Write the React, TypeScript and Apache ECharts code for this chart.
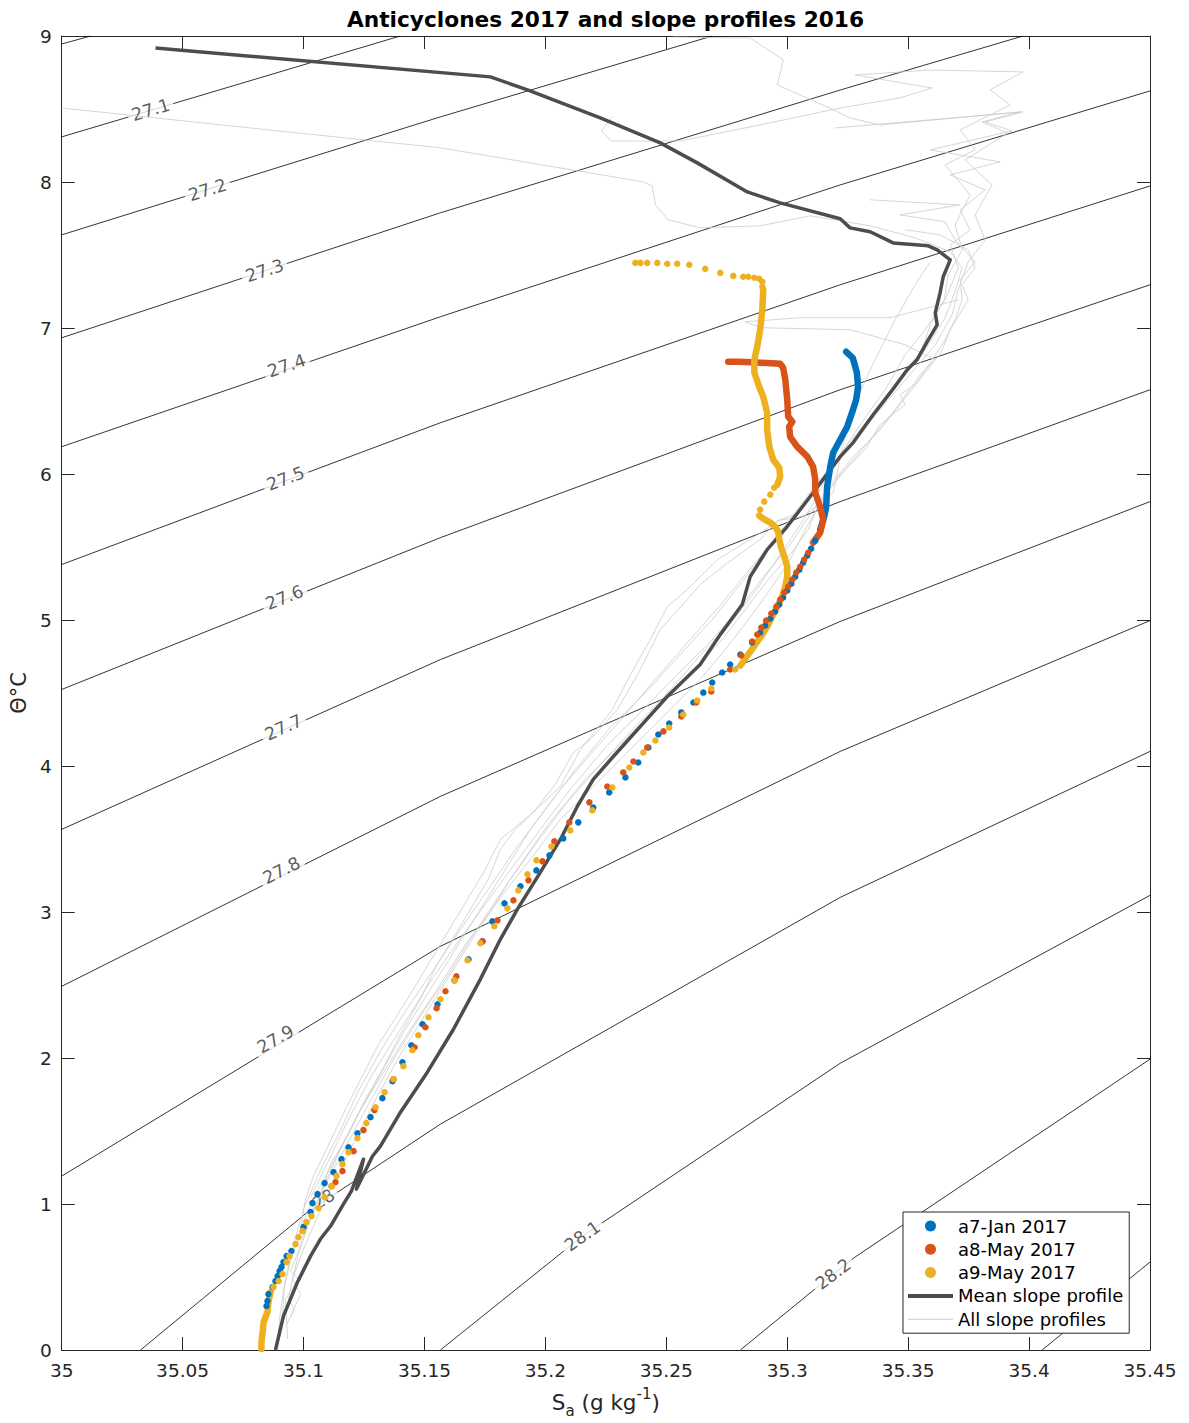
import React, { useEffect, useRef } from "react";
import * as echarts from "echarts";

// ---------- axes ----------
const SA_MIN = 35;
const SA_MAX = 35.45;
const SA_STEP = 0.05;
const THETA_MIN = 0;
const THETA_MAX = 9;
const THETA_STEP = 1;

// ---------- potential density (sigma0) contours, [S_A, Θ] ----------
const sigma270 = [[35.0, 8.945], [35.012, 9.0]];
const sigma271 = [[35.0, 8.309], [35.14, 9.0]];
const sigma272 = [[35.0, 7.638], [35.1566, 8.446], [35.269, 9.0]];
const sigma273 = [[35.0, 6.933], [35.1566, 7.789], [35.3219, 8.63], [35.3975, 9.0]];
const sigma274 = [[35.0, 6.187], [35.1566, 7.077], [35.3219, 7.98], [35.45, 8.624]];
const sigma275 = [[35.0, 5.38], [35.1566, 6.351], [35.3219, 7.296], [35.45, 7.973]];
const sigma276 = [[35.0, 4.524], [35.1566, 5.564], [35.3219, 6.577], [35.45, 7.296]];
const sigma277 = [[35.0, 3.566], [35.1566, 4.729], [35.3219, 5.811], [35.45, 6.577]];
const sigma278 = [[35.0, 2.491], [35.1566, 3.792], [35.3219, 4.99], [35.45, 5.811]];
const sigma279 = [[35.0, 1.191], [35.1566, 2.765], [35.3219, 4.1], [35.45, 4.996]];
const sigma280 = [[35.0326, 0], [35.1017, 0.945], [35.1566, 1.547], [35.3219, 3.1], [35.45, 4.1]];
const sigma281 = [[35.1566, 0], [35.2153, 0.78], [35.3219, 1.964], [35.45, 3.114]];
const sigma282 = [[35.2806, 0], [35.319, 0.52], [35.328, 0.636], [35.45, 1.992]];
const sigma283 = [[35.4054, 0], [35.45, 0.602]];
const sigmaLines = [
  sigma270, sigma271, sigma272, sigma273, sigma274, sigma275, sigma276,
  sigma277, sigma278, sigma279, sigma280, sigma281, sigma282, sigma283,
];

// inline contour labels
const sigmaLabelText = ["27.1", "27.2", "27.3", "27.4", "27.5", "27.6", "27.7", "27.8", "27.9", "28", "28.1", "28.2"];
const sigmaLabelAt = [
  [35.0368, 8.494], [35.0603, 7.946], [35.0839, 7.392], [35.093, 6.742],
  [35.0926, 5.968], [35.0921, 5.154], [35.0917, 4.264], [35.0909, 3.285],
  [35.0884, 2.129], [35.1083, 1.033], [35.2153, 0.78], [35.319, 0.52],
];

// ---------- mean slope profile 2016 ----------
const meanSlopeProfile = [
  [35.0388, 8.918], [35.1773, 8.72], [35.1926, 8.631], [35.2227, 8.439], [35.2475, 8.268],
  [35.2628, 8.131], [35.2835, 7.932], [35.2971, 7.857], [35.3219, 7.748], [35.326, 7.686],
  [35.3343, 7.659], [35.3438, 7.583], [35.3583, 7.563], [35.362, 7.535], [35.3674, 7.467],
  [35.3645, 7.351], [35.3632, 7.241], [35.3612, 7.104], [35.362, 7.022], [35.3583, 6.919],
  [35.3537, 6.783], [35.3496, 6.714], [35.3426, 6.557], [35.3355, 6.406], [35.3273, 6.215],
  [35.3219, 6.119], [35.3107, 5.872], [35.3, 5.64], [35.2917, 5.482], [35.2847, 5.297],
  [35.2814, 5.106], [35.2723, 4.9], [35.264, 4.695], [35.2504, 4.476], [35.2393, 4.271],
  [35.2281, 4.065], [35.2198, 3.908], [35.2132, 3.723], [35.2062, 3.497], [35.1979, 3.272],
  [35.1884, 3.018], [35.1814, 2.813], [35.1731, 2.539], [35.162, 2.197], [35.1512, 1.903],
  [35.1401, 1.629], [35.1318, 1.396], [35.1285, 1.327], [35.1219, 1.102], [35.1248, 1.307],
  [35.1198, 1.088], [35.1165, 0.999], [35.1112, 0.849], [35.107, 0.76], [35.1029, 0.643],
  [35.0975, 0.465], [35.0917, 0.233], [35.0884, 0],
];

// ---------- individual slope profiles 2016 ----------
const slopeProfile1 = [
  [35.0, 8.507], [35.0781, 8.37], [35.1566, 8.234], [35.2405, 8.001], [35.2442, 7.973],
  [35.2455, 7.843], [35.2508, 7.741], [35.264, 7.686], [35.2888, 7.7], [35.3095, 7.768],
  [35.3343, 7.7], [35.3529, 7.618], [35.3674, 7.522], [35.3723, 7.412], [35.3694, 7.248],
  [35.3653, 7.07], [35.357, 6.851], [35.3467, 6.632], [35.3364, 6.406], [35.326, 6.201],
  [35.3157, 5.975], [35.3054, 5.756], [35.293, 5.517], [35.2826, 5.311], [35.2715, 5.085],
  [35.2599, 4.866], [35.2454, 4.593], [35.2331, 4.353], [35.2186, 4.079], [35.2062, 3.84],
  [35.1938, 3.566], [35.1835, 3.292], [35.1731, 3.018], [35.1628, 2.745], [35.1525, 2.471],
  [35.1421, 2.197], [35.1318, 1.889], [35.1215, 1.581], [35.112, 1.273], [35.1037, 1.033],
  [35.0988, 0.828], [35.0946, 0.609], [35.0917, 0.404], [35.0901, 0.212], [35.0893, 0.041],
];
const slopeProfile2 = [
  [35.2529, 8.993], [35.2847, 8.986], [35.2984, 8.836], [35.2959, 8.665], [35.3165, 8.514],
  [35.326, 8.439], [35.3384, 8.391], [35.3962, 8.48], [35.3805, 8.411], [35.3912, 8.336],
  [35.3735, 8.151], [35.3847, 7.98], [35.3777, 7.775], [35.3818, 7.604], [35.3748, 7.453],
  [35.3707, 7.262], [35.3682, 7.091], [35.3612, 6.885], [35.3517, 6.7], [35.3384, 6.441],
  [35.3281, 6.235], [35.3178, 6.03], [35.3116, 5.824], [35.3054, 5.653], [35.2971, 5.448],
  [35.2888, 5.243], [35.2785, 5.017], [35.2661, 4.798], [35.2537, 4.558], [35.2393, 4.305],
  [35.2227, 4.011], [35.2083, 3.737], [35.1959, 3.463], [35.1855, 3.224], [35.1773, 3.005],
  [35.167, 2.779], [35.1566, 2.505], [35.1442, 2.197], [35.1339, 1.923], [35.1236, 1.649],
  [35.1153, 1.376], [35.1078, 1.102],
];
const slopeProfile3 = [
  [35.2277, 8.446], [35.2231, 8.35], [35.2273, 8.281], [35.2558, 8.281], [35.2888, 8.391],
  [35.3219, 8.507], [35.3467, 8.576], [35.3599, 8.644], [35.3281, 8.733], [35.3591, 8.767],
  [35.3975, 8.754], [35.3839, 8.631], [35.3921, 8.528], [35.3715, 8.357], [35.3777, 8.22],
  [35.3653, 8.117], [35.3756, 7.912], [35.3694, 7.706], [35.3723, 7.535], [35.3665, 7.364],
  [35.3649, 7.193], [35.3591, 7.022], [35.3558, 6.851], [35.3446, 6.612], [35.3335, 6.372],
  [35.3227, 6.153], [35.3128, 5.927], [35.3033, 5.722], [35.2971, 5.687], [35.2847, 5.551],
  [35.2711, 5.414], [35.2587, 5.208], [35.2504, 5.092], [35.2434, 4.866], [35.2352, 4.627],
  [35.2277, 4.387], [35.2145, 4.113], [35.2062, 3.86], [35.195, 3.682], [35.1814, 3.497],
  [35.1752, 3.292], [35.1678, 3.087], [35.1566, 2.779], [35.1442, 2.437], [35.1306, 2.081],
  [35.1174, 1.649], [35.1041, 1.191], [35.1008, 1.033], [35.0988, 0.828],
];
const slopeProfile4 = [
  [35.3487, 7.673], [35.3632, 7.638], [35.3748, 7.535], [35.3777, 7.412], [35.3723, 7.296],
  [35.3748, 7.193], [35.3674, 6.988], [35.3632, 6.817], [35.355, 6.68], [35.3446, 6.441],
  [35.3343, 6.235], [35.324, 6.03], [35.3157, 5.858], [35.3074, 5.619], [35.3012, 5.414],
  [35.293, 5.208], [35.2839, 5.003], [35.2744, 4.798], [35.264, 4.593], [35.2508, 4.374],
  [35.2351, 4.113], [35.2207, 3.874], [35.2062, 3.634], [35.1938, 3.36], [35.1814, 3.101],
  [35.1711, 2.847], [35.1608, 2.574], [35.1504, 2.3], [35.1401, 2.026], [35.131, 1.752],
  [35.1215, 1.444], [35.1132, 1.17], [35.1062, 0.931], [35.1, 0.691], [35.0954, 0.486],
  [35.0938, 0.349], [35.0963, 0.281], [35.093, 0.178],
];
const slopeProfile5 = [
  [35.3591, 7.453], [35.3529, 7.296], [35.3446, 7.056], [35.3343, 6.714], [35.3252, 6.372],
  [35.319, 5.872], [35.3066, 5.708], [35.2959, 5.681], [35.2888, 5.551], [35.2744, 5.38],
  [35.264, 5.243], [35.2587, 5.14], [35.2475, 4.935], [35.2393, 4.661], [35.2298, 4.387],
  [35.2186, 4.182], [35.2116, 4.093], [35.2041, 3.874], [35.195, 3.682], [35.1876, 3.566],
  [35.1814, 3.429], [35.1764, 3.224], [35.169, 3.018], [35.1628, 2.847], [35.1546, 2.621],
  [35.1483, 2.402], [35.1401, 2.163], [35.1327, 1.923], [35.1256, 1.718], [35.1186, 1.478],
  [35.1112, 1.273], [35.107, 1.068], [35.1021, 0.862], [35.0979, 0.657], [35.0954, 0.486],
  [35.0988, 0.383], [35.0946, 0.226],
];
const slopeProfile6 = [
  [35.3343, 7.878], [35.3715, 7.843], [35.3467, 7.775], [35.3653, 7.727], [35.3694, 7.604],
  [35.3777, 7.453], [35.3715, 7.33], [35.3723, 7.193], [35.3694, 7.056], [35.3653, 6.919],
  [35.3599, 6.782], [35.3529, 6.612], [35.3467, 6.543], [35.3488, 6.475], [35.3384, 6.338],
  [35.3322, 6.167], [35.3219, 5.996], [35.3128, 5.79], [35.3087, 5.619], [35.3012, 5.448],
  [35.2921, 5.277], [35.2826, 5.071], [35.2731, 4.866], [35.2599, 4.627], [35.2475, 4.422],
  [35.231, 4.148], [35.2165, 3.908], [35.2012, 3.6], [35.1897, 3.326], [35.1785, 3.053],
  [35.169, 2.813], [35.1587, 2.539], [35.1475, 2.266], [35.1368, 1.978], [35.1269, 1.684],
  [35.1174, 1.389], [35.1091, 1.136], [35.1021, 0.883], [35.0979, 0.678], [35.0946, 0.541],
  [35.0979, 0.486], [35.0926, 0.349], [35.0934, 0.075],
];
const slopeProfile7 = [
  [35.3198, 8.37], [35.3975, 8.48], [35.3818, 8.411], [35.393, 8.35], [35.3591, 8.22],
  [35.388, 8.138], [35.3674, 8.049], [35.3818, 7.946], [35.3715, 7.809], [35.3756, 7.672],
  [35.3674, 7.57], [35.3707, 7.412], [35.3653, 7.193], [35.357, 6.988], [35.3488, 6.817],
  [35.3405, 6.577], [35.3302, 6.338], [35.3211, 6.112], [35.3103, 5.893], [35.3004, 5.674],
  [35.2909, 5.469], [35.2814, 5.263], [35.269, 5.003], [35.2558, 4.764], [35.2426, 4.524],
  [35.2269, 4.264], [35.2124, 3.976], [35.2, 3.703], [35.1876, 3.429], [35.1764, 3.155],
  [35.1649, 2.881], [35.1533, 2.594], [35.1421, 2.32], [35.1318, 2.047], [35.1227, 1.773],
  [35.1145, 1.478], [35.1062, 1.205], [35.1, 0.965], [35.0959, 0.725], [35.0921, 0.452],
  [35.0913, 0.212],
];
const slopeProfile8 = [
  [35.3707, 7.193], [35.3426, 7.07], [35.3054, 7.07], [35.2826, 7.043], [35.2888, 7.002],
  [35.326, 6.988], [35.3488, 6.885], [35.3612, 6.782], [35.3508, 6.563], [35.3384, 6.303],
  [35.3281, 6.133], [35.3178, 5.927], [35.3095, 5.722], [35.3012, 5.517], [35.2909, 5.311],
  [35.2806, 5.085], [35.269, 4.866], [35.2558, 4.647], [35.2413, 4.401], [35.2248, 4.127],
  [35.2103, 3.84], [35.1979, 3.566], [35.1863, 3.306], [35.1752, 3.053], [35.164, 2.799],
  [35.1525, 2.526], [35.1401, 2.197], [35.1285, 1.889], [35.1186, 1.581], [35.1103, 1.294],
  [35.1029, 1.047],
];
const slopeProfiles = [
  slopeProfile1, slopeProfile2, slopeProfile3, slopeProfile4,
  slopeProfile5, slopeProfile6, slopeProfile7, slopeProfile8,
];

// ---------- anticyclone a7 (Jan 2017) ----------
const a7Dense = [
  [35.3244, 6.837], [35.3271, 6.796], [35.3288, 6.694], [35.3293, 6.598], [35.3285, 6.509],
  [35.3268, 6.42], [35.3248, 6.324], [35.3219, 6.235], [35.319, 6.146], [35.3178, 6.05],
  [35.3165, 5.913], [35.3161, 5.776], [35.3153, 5.708], [35.3136, 5.619],
];
const a7Samples = [
  [35.3116, 5.544], [35.3099, 5.489], [35.3083, 5.441], [35.3066, 5.393], [35.305, 5.345],
  [35.3033, 5.297], [35.3017, 5.249], [35.3, 5.202], [35.2983, 5.154], [35.2967, 5.106],
  [35.295, 5.058], [35.293, 5.01], [35.2909, 4.962], [35.2888, 4.914], [35.2855, 4.846],
  [35.2806, 4.764], [35.2764, 4.695], [35.2731, 4.64], [35.269, 4.572], [35.2653, 4.503],
  [35.2612, 4.435], [35.2562, 4.367], [35.2512, 4.291], [35.2467, 4.216], [35.2426, 4.127],
  [35.2384, 4.024], [35.2331, 3.922], [35.2264, 3.819], [35.2198, 3.716], [35.2136, 3.614],
  [35.2074, 3.504], [35.2017, 3.388], [35.1963, 3.285], [35.1897, 3.176], [35.1831, 3.059],
  [35.1781, 2.936], [35.174, 2.799], [35.1682, 2.676], [35.1624, 2.532], [35.1554, 2.368],
  [35.1492, 2.231], [35.1446, 2.087], [35.1409, 1.971], [35.1368, 1.841], [35.1326, 1.725],
  [35.1277, 1.595], [35.1223, 1.485], [35.1186, 1.389], [35.1157, 1.307], [35.1124, 1.218],
  [35.1087, 1.143], [35.1058, 1.068], [35.1037, 1.006], [35.1029, 0.945], [35.1, 0.842],
  [35.095, 0.678], [35.093, 0.643], [35.0917, 0.602], [35.0909, 0.568], [35.0901, 0.541],
  [35.0893, 0.506], [35.0884, 0.472], [35.0872, 0.431], [35.0855, 0.383], [35.0851, 0.335],
  [35.0847, 0.301],
];

// ---------- anticyclone a8 (May 2017) ----------
const a8Dense = [
  [35.2756, 6.769], [35.2806, 6.769], [35.2888, 6.762], [35.2971, 6.755], [35.2983, 6.728],
  [35.2992, 6.646], [35.3, 6.509], [35.3004, 6.393], [35.3021, 6.358], [35.3008, 6.324],
  [35.3012, 6.255], [35.3041, 6.187], [35.3083, 6.119], [35.3107, 6.05], [35.3116, 5.961],
  [35.3116, 5.872], [35.3136, 5.776], [35.3149, 5.687], [35.3136, 5.598], [35.3107, 5.53],
];
const a8Samples = [
  [35.3087, 5.462], [35.307, 5.414], [35.3054, 5.366], [35.3037, 5.325], [35.3021, 5.277],
  [35.3004, 5.229], [35.2988, 5.188], [35.2971, 5.14], [35.2955, 5.092], [35.2934, 5.044],
  [35.2913, 4.996], [35.2893, 4.948], [35.2876, 4.901], [35.2855, 4.853], [35.281, 4.757],
  [35.2764, 4.661], [35.2686, 4.51], [35.2624, 4.435], [35.2562, 4.339], [35.2488, 4.237],
  [35.2421, 4.127], [35.2364, 4.031], [35.2322, 3.956], [35.2256, 3.86], [35.2182, 3.751],
  [35.2099, 3.614], [35.2037, 3.484], [35.1988, 3.347], [35.193, 3.217], [35.1868, 3.08],
  [35.1802, 2.943], [35.174, 2.799], [35.1632, 2.56], [35.1587, 2.457], [35.155, 2.341],
  [35.1504, 2.211], [35.1459, 2.074], [35.1372, 1.855], [35.1293, 1.643], [35.1248, 1.506],
  [35.1207, 1.362], [35.1161, 1.225], [35.1132, 1.15], [35.1116, 1.122],
];

// ---------- anticyclone a9 (May 2017) ----------
const a9Samples = [
  [35.2372, 7.446], [35.2393, 7.446], [35.2421, 7.446], [35.2463, 7.446], [35.2504, 7.44],
  [35.2545, 7.44], [35.2595, 7.433], [35.2661, 7.405], [35.2723, 7.378], [35.2777, 7.357],
  [35.2818, 7.351], [35.2839, 7.351], [35.2864, 7.344], [35.2884, 7.337], [35.2897, 7.316],
  [35.2897, 7.282],
  [35.2946, 5.906], [35.293, 5.859], [35.2905, 5.811], [35.2888, 5.756],
  [35.2785, 4.661], [35.2686, 4.531], [35.2628, 4.449], [35.257, 4.353], [35.2512, 4.264],
  [35.2455, 4.175], [35.2405, 4.093], [35.2347, 3.99], [35.2277, 3.853], [35.2194, 3.696],
  [35.2103, 3.559], [35.2025, 3.449], [35.1963, 3.354], [35.1926, 3.258], [35.1888, 3.148],
  [35.1843, 3.025], [35.1789, 2.902], [35.1731, 2.786], [35.1678, 2.669], [35.1624, 2.532],
  [35.1566, 2.402], [35.1517, 2.279], [35.1475, 2.156], [35.145, 2.053], [35.1413, 1.944],
  [35.1372, 1.855], [35.1335, 1.766], [35.1298, 1.663], [35.126, 1.554], [35.1223, 1.451],
  [35.1186, 1.355], [35.1161, 1.273], [35.1136, 1.191], [35.1116, 1.122], [35.1087, 1.047],
  [35.1062, 0.972], [35.1033, 0.917], [35.1012, 0.876], [35.0996, 0.814], [35.0979, 0.773],
  [35.0967, 0.725], [35.0942, 0.643], [35.093, 0.602], [35.0913, 0.52], [35.0897, 0.472],
  [35.0876, 0.431],
];
const a9DenseUpper = [
  [35.2901, 7.262], [35.2897, 7.125], [35.2888, 6.988], [35.2876, 6.872], [35.2864, 6.783],
  [35.2864, 6.694], [35.2884, 6.598], [35.2901, 6.529], [35.2917, 6.42], [35.2917, 6.303],
  [35.2926, 6.187], [35.2942, 6.098], [35.2967, 6.043], [35.2971, 5.982], [35.2959, 5.927],
];
const a9DenseMiddle = [
  [35.2884, 5.715], [35.2901, 5.694], [35.293, 5.667], [35.2946, 5.646], [35.2963, 5.605],
  [35.2967, 5.551], [35.2975, 5.496], [35.2988, 5.434], [35.3, 5.366], [35.3, 5.297],
  [35.2992, 5.229], [35.2979, 5.16], [35.2959, 5.092], [35.2938, 5.024], [35.2917, 4.955],
  [35.2897, 4.901], [35.2868, 4.832], [35.2839, 4.764], [35.2806, 4.688],
];
const a9DenseLower = [
  [35.0864, 0.397], [35.0855, 0.329], [35.0851, 0.26], [35.0835, 0.192], [35.0831, 0.123],
  [35.0826, 0.055], [35.0826, 0.007],
];

// ---------- legend / series names ----------
const A7_NAME = "a7-Jan 2017";
const A8_NAME = "a8-May 2017";
const A9_NAME = "a9-May 2017";
const MEAN_NAME = "Mean slope profile";
const ALL_NAME = "All slope profiles";

// ---------- styling ----------
const FONT = "DejaVu Sans";
const AXIS_COLOR = "#262626";
const C_A7 = "#0072BD";
const C_A8 = "#D95319";
const C_A9 = "#EDB120";
const C_MEAN = "#4d4d4d";
const C_ALL = "#cbcbcb";
const DOT = 6.5;
const MEAN_WIDTH = 3.5;
const ALL_WIDTH = 0.8;
const sigmaLabelAngle = [16.6, 17.3, 18.3, 18.9, 20.5, 21.9, 24.2, 26.6, 29.5, 33.5, 35.5, 37];

// legend keys for the two line entries: flat bars as wide as the legend slot
const meanKey = "path://M0,0h45v4h-45z";
const allKey = "path://M0,0h45v1h-45z";

const fmtSa = (v: number) => String(parseFloat(v.toFixed(2)));

function buildOption(): echarts.EChartsCoreOption {
  const series: any[] = [];

  sigmaLines.forEach((pts) => {
    series.push({
      type: "line",
      data: pts,
      symbol: "none",
      silent: true,
      z: 1,
      lineStyle: { color: "#000", width: 0.8 },
    });
  });

  series.push({
    type: "scatter",
    silent: true,
    z: 2,
    symbolSize: 0,
    data: sigmaLabelText.map((t, i) => ({
      name: t,
      value: sigmaLabelAt[i],
      label: { rotate: sigmaLabelAngle[i] },
    })),
    label: {
      show: true,
      position: "inside",
      formatter: "{b}",
      fontFamily: FONT,
      fontSize: 17.5,
      color: "#333",
      backgroundColor: "#fff",
      padding: [0, 4],
    },
  });

  // dotted samples first so that the legend takes their circle markers
  const dots = (name: string, color: string, data: number[][]) => ({
    type: "scatter",
    name,
    data,
    symbol: "circle",
    symbolSize: DOT,
    silent: true,
    z: 6,
    itemStyle: { color, opacity: 1 },
  });
  const dense = (name: string, color: string, data: number[][]) => ({
    type: "line",
    name,
    data,
    symbol: "none",
    silent: true,
    z: 6,
    itemStyle: { color },
    lineStyle: { color, width: DOT, cap: "round", join: "round" },
  });
  series.push(dots(A7_NAME, C_A7, a7Samples));
  series.push(dots(A8_NAME, C_A8, a8Samples));
  series.push(dots(A9_NAME, C_A9, a9Samples));
  series.push(dense(A7_NAME, C_A7, a7Dense));
  series.push(dense(A8_NAME, C_A8, a8Dense));
  series.push(dense(A9_NAME, C_A9, a9DenseUpper));
  series.push(dense(A9_NAME, C_A9, a9DenseMiddle));
  series.push(dense(A9_NAME, C_A9, a9DenseLower));

  series.push({
    type: "line",
    name: MEAN_NAME,
    data: meanSlopeProfile,
    symbol: "none",
    silent: true,
    z: 5,
    itemStyle: { color: C_MEAN },
    lineStyle: { color: C_MEAN, width: MEAN_WIDTH, join: "round" },
  });

  slopeProfiles.forEach((p) => {
    series.push({
      type: "line",
      name: ALL_NAME,
      data: p,
      symbol: "none",
      silent: true,
      z: 3,
      itemStyle: { color: C_ALL },
      lineStyle: { color: C_ALL, width: ALL_WIDTH },
    });
  });

  const tick = { show: true, inside: true, length: 13, lineStyle: { color: AXIS_COLOR, width: 1 } };
  const line = { show: true, onZero: false, lineStyle: { color: AXIS_COLOR, width: 1 } };

  return {
    animation: false,
    backgroundColor: "#fff",
    grid: { left: 61, top: 36, width: 1089, height: 1315, containLabel: false },
    graphic: [
      {
        type: "text",
        x: 605.5,
        y: 19,
        silent: true,
        style: {
          text: "Anticyclones 2017 and slope profiles 2016",
          textAlign: "center",
          textVerticalAlign: "middle",
          fontFamily: FONT,
          fontSize: 21.7,
          fontWeight: "bold",
          fill: "#000",
        },
      },
    ],
    legend: {
      data: [
        { name: A7_NAME, icon: "circle", itemStyle: { color: C_A7 } },
        { name: A8_NAME, icon: "circle", itemStyle: { color: C_A8 } },
        { name: A9_NAME, icon: "circle", itemStyle: { color: C_A9 } },
        { name: MEAN_NAME, icon: meanKey, itemStyle: { color: C_MEAN, borderWidth: 0 } },
        { name: ALL_NAME, icon: allKey, itemStyle: { color: C_ALL, borderWidth: 0 } },
      ],
      orient: "vertical",
      left: 903,
      top: 1212,
      padding: [4, 6, 4, 5],
      itemWidth: 45,
      itemHeight: 11,
      itemGap: 3.3,
      backgroundColor: "#fff",
      borderColor: AXIS_COLOR,
      borderWidth: 1,
      borderRadius: 0,
      selectedMode: false,
      z: 20,
      textStyle: { fontFamily: FONT, fontSize: 18, color: "#000", lineHeight: 20 },
    },
    xAxis: [
      {
        type: "value",
        position: "bottom",
        min: SA_MIN,
        max: SA_MAX,
        interval: SA_STEP,
        axisLine: line,
        axisTick: tick,
        splitLine: { show: false },
        axisLabel: {
          show: true,
          margin: 11,
          fontFamily: FONT,
          fontSize: 18.5,
          color: AXIS_COLOR,
          showMinLabel: true,
          showMaxLabel: true,
          formatter: fmtSa,
        },
        name: "{n|S}{sub|a}{n| (g kg}{sup|-1}{n|)}",
        nameLocation: "middle",
        nameGap: 36,
        nameTextStyle: {
          rich: {
            n: { fontFamily: FONT, fontSize: 21.5, color: AXIS_COLOR, lineHeight: 32, verticalAlign: "middle" },
            sub: { fontFamily: FONT, fontSize: 15, color: AXIS_COLOR, lineHeight: 15, verticalAlign: "bottom" },
            sup: { fontFamily: FONT, fontSize: 15, color: AXIS_COLOR, lineHeight: 15, verticalAlign: "top" },
          },
        },
      },
      {
        type: "value",
        position: "top",
        min: SA_MIN,
        max: SA_MAX,
        interval: SA_STEP,
        axisLine: line,
        axisTick: tick,
        axisLabel: { show: false },
        splitLine: { show: false },
      },
    ],
    yAxis: [
      {
        type: "value",
        position: "left",
        min: THETA_MIN,
        max: THETA_MAX,
        interval: THETA_STEP,
        axisLine: line,
        axisTick: tick,
        splitLine: { show: false },
        axisLabel: { show: true, margin: 10, fontFamily: FONT, fontSize: 18.5, color: AXIS_COLOR },
        name: "Θ°C",
        nameLocation: "middle",
        nameRotate: 90,
        nameGap: 30,
        nameTextStyle: { fontFamily: FONT, fontSize: 21, color: AXIS_COLOR },
      },
      {
        type: "value",
        position: "right",
        min: THETA_MIN,
        max: THETA_MAX,
        interval: THETA_STEP,
        axisLine: line,
        axisTick: tick,
        axisLabel: { show: false },
        splitLine: { show: false },
      },
    ],
    series,
  };
}

export default function App() {
  const ref = useRef<HTMLDivElement>(null);
  useEffect(() => {
    document.body.style.margin = "0";
    const chart = echarts.init(ref.current as HTMLDivElement, null, { renderer: "svg" });
    chart.setOption(buildOption());
    return () => chart.dispose();
  }, []);
  return <div ref={ref} style={{ width: 1189, height: 1423 }} />;
}
